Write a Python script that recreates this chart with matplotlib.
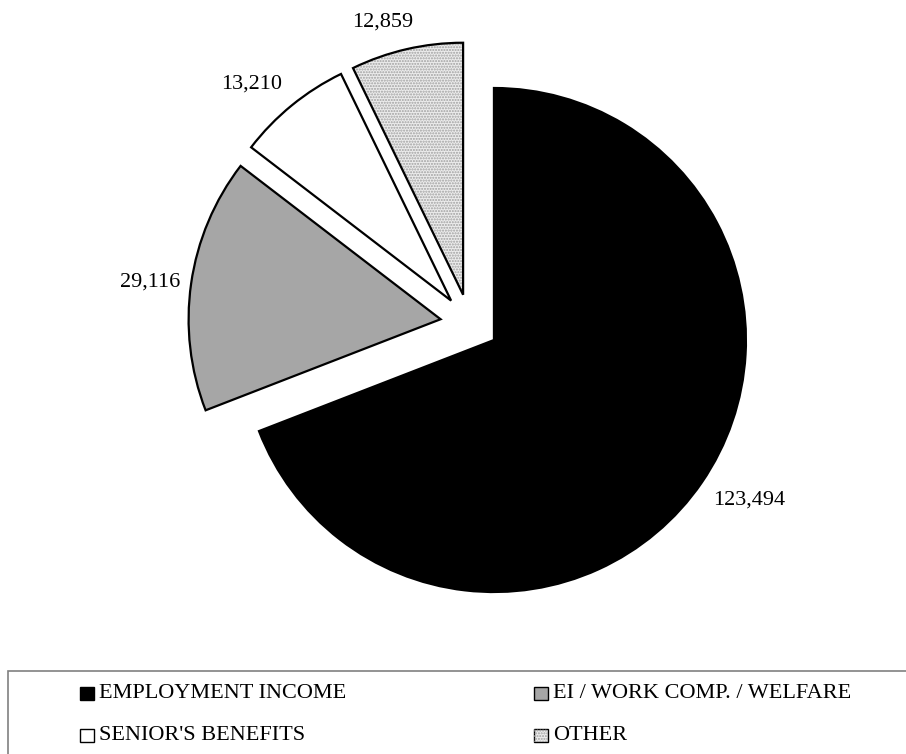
import matplotlib
matplotlib.use("Agg")
import matplotlib.pyplot as plt
from matplotlib.patches import Rectangle, Wedge

# Income source totals
categories = ["EMPLOYMENT INCOME", "EI / WORK COMP. / WELFARE",
              "SENIOR'S BENEFITS", "OTHER"]
values = [123494, 29116, 13210, 12859]
value_labels = ["{:,}".format(v) for v in values]
colors = ["#000000", "#a6a6a6", "#ffffff", "#ececec"]

W, H = 906, 754
font = "Liberation Serif"

fig = plt.figure(figsize=(W / 100, H / 100), dpi=100)
ax = fig.add_axes([0, 0, 1, 1])

# work in pixel units so the pie radius and explode offset are easy to size
radius = 252
gap = 29.4
center = (469.7, H - 323.4)

wedges, texts = ax.pie(
    values, colors=colors, labels=value_labels,
    startangle=90, counterclock=False,
    radius=radius, center=center, explode=[gap] * len(values),
    labeldistance=1.16,
    wedgeprops=dict(edgecolor="black", linewidth=1.6),
    textprops=dict(fontsize=16, family=font, ha="center", va="center"),
)

# small shifts so the value labels sit where the small slices leave room
label_shift = [(14, 5), (-1, -4.5), (-14.5, -10), (-15, -12.5)]
for t, (dx, dy) in zip(texts, label_shift):
    x, y = t.get_position()
    t.set_position((x + dx, y + dy))

# dotted fill for the last slice, then redraw its black outline on top
other = wedges[3]
other.set_hatch("......")
other.set_edgecolor("#a0a0a0")
other.set_linewidth(0)
ax.add_patch(Wedge(other.center, other.r, other.theta1, other.theta2,
                   fill=False, edgecolor="black", linewidth=1.6))

ax.set_xlim(0, W)
ax.set_ylim(0, H)
ax.set_aspect("equal")
ax.axis("off")

# legend box along the bottom
ax.add_patch(Rectangle((8, -20), W + 40, H - 671 + 20, fill=False,
                       edgecolor="#808080", linewidth=1.2, clip_on=False))

col_x = [99, 553]
row_y = [H - 693, H - 735]
for i, (name, col) in enumerate(zip(categories, colors)):
    tx = col_x[i % 2]
    ty = row_y[i // 2]
    sw = Rectangle((tx - 19, ty - 6.5), 14, 13, facecolor=col,
                   edgecolor="black", linewidth=1.0)
    ax.add_patch(sw)
    if i == 3:
        ax.add_patch(Rectangle((tx - 19, ty - 6.5), 14, 13, fill=False,
                               hatch="......", edgecolor="#a0a0a0",
                               linewidth=0))
    ax.text(tx, ty, name, fontsize=16, family=font, ha="left", va="center")

fig.savefig("out.png", dpi=100)
